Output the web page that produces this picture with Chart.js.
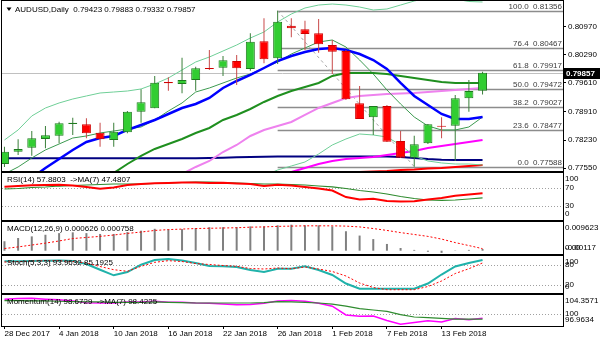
<!DOCTYPE html>
<html>
<head>
<meta charset="utf-8">
<script src="https://cdn.jsdelivr.net/npm/chart.js@4.4.1/dist/chart.umd.min.js"></script>
<style>
  html, body { margin: 0; padding: 0; background: #fff; }
  #wrap { position: relative; width: 600px; height: 343px; overflow: hidden; }
  #wrap canvas { position: absolute; left: 0; }
</style>
</head>
<body>
<div id="wrap">
  <canvas id="main" width="600" height="172" style="top:0px"></canvas>
  <canvas id="rsi" width="600" height="49" style="top:172px"></canvas>
  <canvas id="macd" width="600" height="34" style="top:221px"></canvas>
  <canvas id="stoch" width="600" height="39" style="top:255px"></canvas>
  <canvas id="mom" width="600" height="49" style="top:294px"></canvas>
</div>
<script>
// AUDUSD daily bars, 28 Dec 2017 - 16 Feb 2018
const dates = ['28 Dec 2017', '29 Dec 2017', '2 Jan 2018', '3 Jan 2018', '4 Jan 2018', '5 Jan 2018',
  '8 Jan 2018', '9 Jan 2018', '10 Jan 2018', '11 Jan 2018', '12 Jan 2018', '15 Jan 2018',
  '16 Jan 2018', '17 Jan 2018', '18 Jan 2018', '19 Jan 2018', '22 Jan 2018', '23 Jan 2018',
  '24 Jan 2018', '25 Jan 2018', '26 Jan 2018', '29 Jan 2018', '30 Jan 2018', '31 Jan 2018',
  '1 Feb 2018', '2 Feb 2018', '5 Feb 2018', '6 Feb 2018', '7 Feb 2018', '8 Feb 2018',
  '9 Feb 2018', '12 Feb 2018', '13 Feb 2018', '14 Feb 2018', '15 Feb 2018', '16 Feb 2018'];

const opens = [0.77653, 0.77950, 0.78047, 0.78257, 0.78337, 0.78619, 0.78612, 0.78409, 0.78233, 0.78419,
  0.78916, 0.78998, 0.79634, 0.79585, 0.79682, 0.79972, 0.79979, 0.80141, 0.79948, 0.80616,
  0.80206, 0.80993, 0.80906, 0.80810, 0.80527, 0.80382, 0.79119, 0.78781, 0.79054, 0.78209,
  0.77805, 0.78153, 0.78578, 0.78578, 0.79240, 0.79423];
const highs = [0.78071, 0.78250, 0.78450, 0.78571, 0.78675, 0.78771, 0.78757, 0.78651, 0.78651, 0.78933,
  0.79457, 0.79778, 0.79747, 0.80220, 0.80003, 0.80406, 0.80261, 0.80286, 0.80810, 0.81172,
  0.81356, 0.81172, 0.81114, 0.81155, 0.80648, 0.80406, 0.79537, 0.79054, 0.79078, 0.78450,
  0.78337, 0.78619, 0.78781, 0.79320, 0.79682, 0.79883];
const lows = [0.77581, 0.77871, 0.77854, 0.78032, 0.78153, 0.78354, 0.78274, 0.78071, 0.78071, 0.78395,
  0.78651, 0.78998, 0.79423, 0.79361, 0.79423, 0.79923, 0.79778, 0.79561, 0.79906, 0.80085,
  0.80068, 0.80713, 0.80406, 0.80341, 0.79827, 0.79199, 0.78740, 0.78354, 0.78185, 0.77798,
  0.77588, 0.78136, 0.78274, 0.77726, 0.78916, 0.79332];
const closes = [0.77950, 0.78016, 0.78274, 0.78346, 0.78636, 0.78651, 0.78395, 0.78250, 0.78433, 0.78916,
  0.79143, 0.79617, 0.79602, 0.79682, 0.79964, 0.79948, 0.80158, 0.79964, 0.80607, 0.80182,
  0.81090, 0.80930, 0.80793, 0.80544, 0.80365, 0.79216, 0.78740, 0.79054, 0.78192, 0.77805,
  0.78129, 0.78612, 0.78554, 0.79240, 0.79416, 0.79857];

// overlays on the price panel
const bbUpper = [0.78233, 0.78475, 0.78813, 0.79006, 0.79127, 0.79223, 0.79296, 0.79368, 0.79392, 0.79416,
  0.79465, 0.79585, 0.79730, 0.79924, 0.80117, 0.80237, 0.80382, 0.80527, 0.80696, 0.80841,
  0.81083, 0.81276, 0.81421, 0.81493, 0.81517, 0.81493, 0.81445, 0.81373, 0.81397, 0.81493,
  0.81590, 0.81662, 0.81686, 0.81638, 0.81578, 0.81566];
const bbMiddle = [0.77412, 0.77581, 0.77798, 0.77992, 0.78136, 0.78281, 0.78330, 0.78402, 0.78450, 0.78499,
  0.78547, 0.78716, 0.78933, 0.79127, 0.79392, 0.79489, 0.79610, 0.79730, 0.79827, 0.79972,
  0.80117, 0.80310, 0.80455, 0.80600, 0.80648, 0.80479, 0.80165, 0.79827, 0.79441, 0.79102,
  0.78788, 0.78571, 0.78475, 0.78475, 0.78547, 0.78788];
const bbLower = [null, null, null, null, null, null, null, null, null, null,
  null, null, null, null, null, null, null, null, null, 0.77364,
  0.77509, 0.77605, 0.77702, 0.77895, 0.78112, 0.78257, 0.78378, 0.78354, 0.78305, 0.78112,
  0.77847, 0.77726, 0.77678, 0.77653, 0.77653, 0.77629];
const maBlue = [null, null, 0.77315, 0.77557, 0.77774, 0.77992, 0.78185, 0.78281, 0.78330, 0.78475,
  0.78595, 0.78716, 0.78861, 0.79006, 0.79102, 0.79247, 0.79489, 0.79658, 0.79803, 0.79972,
  0.80141, 0.80262, 0.80358, 0.80431, 0.80455, 0.80407, 0.80310, 0.80165, 0.79948, 0.79610,
  0.79296, 0.79078, 0.78861, 0.78740, 0.78740, 0.78788];
const maGreen = [null, null, null, null, null, null, null, null, 0.77436, 0.77653,
  0.77847, 0.78016, 0.78136, 0.78257, 0.78402, 0.78523, 0.78716, 0.78837, 0.78982, 0.79151,
  0.79296, 0.79416, 0.79513, 0.79610, 0.79779, 0.79851, 0.79851, 0.79851, 0.79827, 0.79779,
  0.79730, 0.79682, 0.79634, 0.79610, 0.79610, 0.79610];
const maViolet = [null, null, null, null, null, null, null, null, null, null,
  null, null, null, 0.77412, 0.77581, 0.77726, 0.77943, 0.78112, 0.78330, 0.78475,
  0.78571, 0.78668, 0.78837, 0.79006, 0.79127, 0.79247, 0.79296, 0.79320, 0.79344, 0.79356,
  0.79368, 0.79392, 0.79416, 0.79441, 0.79465, 0.79489];
const maMagenta = [null, null, null, null, null, null, null, null, null, null,
  null, null, null, null, null, null, null, null, null, null,
  null, 0.77460, 0.77557, 0.77653, 0.77726, 0.77774, 0.77798, 0.77822, 0.77871, 0.77919,
  0.77967, 0.78040, 0.78088, 0.78136, 0.78185, 0.78233];
const maNavy = [0.77791, 0.77791, 0.77791, 0.77791, 0.77791, 0.77791, 0.77791, 0.77791, 0.77791, 0.77791,
  0.77791, 0.77791, 0.77791, 0.77791, 0.77791, 0.77798, 0.77806, 0.77814, 0.77822, 0.77830,
  0.77834, 0.77834, 0.77834, 0.77834, 0.77834, 0.77834, 0.77834, 0.77834, 0.77834, 0.77822,
  0.77798, 0.77774, 0.77758, 0.77750, 0.77750, 0.77750];
const maRed = [null, null, null, null, null, null, null, null, null, null,
  null, null, null, null, null, null, null, null, null, null,
  null, null, null, null, null, null, 0.77460, 0.77472, 0.77484, 0.77509,
  0.77521, 0.77545, 0.77557, 0.77581, 0.77605, 0.77629];

const priceTicks = [0.80970, 0.80290, 0.79610, 0.78910, 0.78230, 0.77550];
const fibLevels = [0, 23.6, 38.2, 50, 61.8, 76.4, 100];
const FIB_HIGH_BAR = 20;
const FIB_LOW_BAR = 30;

// oscillators
const rsi = [72.7, 74.5, 76.0, 76.8, 77.3, 75.7, 72.3, 68.4, 71.1, 76.8,
  79.0, 80.7, 81.4, 82.5, 82.5, 81.4, 81.8, 80.2, 79.1, 74.5,
  77.5, 75.7, 72.3, 68.9, 64.3, 49.5, 43.9, 45.7, 40.5, 39.3,
  39.8, 43.9, 47.3, 52.5, 55.2, 57.8803];
const rsiMa = [67.7, 68.9, 71.1, 72.3, 74.5, 75.7, 76.8, 78.0, 79.1, 79.1,
  79.1, 80.2, 81.4, 82.5, 83.6, 83.6, 82.5, 81.4, 80.2, 79.1,
  79.1, 78.0, 76.8, 74.5, 72.7, 68.9, 64.3, 60.9, 56.4, 50.7,
  46.1, 42.7, 42.0, 42.7, 45.0, 47.4807];
const rsiTicks = [100, 70, 30, 0];
const rsiLevels = [70, 30];

const macd = [0.0035, 0.0047, 0.0053, 0.0059, 0.0065, 0.0068, 0.0065, 0.0062, 0.0062, 0.0069,
  0.0074, 0.0081, 0.0079, 0.0080, 0.0084, 0.0087, 0.0087, 0.0087, 0.0090, 0.0090,
  0.0094, 0.009623, 0.0094, 0.0094, 0.0090, 0.0072, 0.0056, 0.0043, 0.0025, 0.0010,
  0.0003, -0.0004, -0.0008, 0.0001, 0.0003, 0.000626];
const macdSignal = [0.0008, 0.0014, 0.0021, 0.0028, 0.0036, 0.0045, 0.0049, 0.0053, 0.0058, 0.0064,
  0.0069, 0.0075, 0.0078, 0.0080, 0.0082, 0.0083, 0.0084, 0.0085, 0.0087, 0.0088,
  0.0090, 0.0091, 0.0092, 0.0092, 0.0092, 0.0091, 0.0088, 0.0082, 0.0075, 0.0067,
  0.0060, 0.0053, 0.0043, 0.0030, 0.0019, 0.000758];
const macdTicks = [0.009623, 0, -0.00117];

const stochK = [89.9, 89.9, 90.8, 91.7, 92.2, 90.8, 82.0, 65.4, 49.1, 58.7,
  80.0, 93.7, 96.6, 92.2, 85.0, 76.2, 75.3, 73.3, 64.5, 58.7,
  68.3, 68.3, 75.3, 64.5, 50.0, 25.2, 10.0, 10.0, 10.0, 10.0,
  10.0, 25.2, 51.4, 74.8, 85.0, 93.9632];
const stochD = [87.9, 89.3, 90.8, 91.4, 91.4, 89.3, 85.0, 74.8, 65.4, 60.8,
  75.3, 87.0, 91.7, 89.3, 83.5, 80.6, 77.7, 75.3, 68.9, 67.5,
  70.4, 68.3, 73.3, 67.5, 60.2, 47.1, 26.6, 13.5, 7.1, 7.1,
  7.1, 16.4, 32.5, 54.3, 68.3, 85.1925];
const stochTicks = [100, 80, 20, 0];
const stochLevels = [80, 20];

const momentum = [104.1, 104.3, 104.3571, 104.1, 103.9, 103.6, 103.1, 103.0, 103.0, 103.3,
  103.3, 103.5, 103.2, 103.2, 103.0, 102.9, 102.7, 102.5, 102.6, 102.9,
  103.6, 103.7, 103.5, 102.9, 102.1, 99.6, 99.2, 99.3, 98.0, 96.9634,
  97.4, 97.9, 97.6, 98.6, 98.2, 98.6729];
const momentumMa = [103.7, 103.7, 103.6, 103.6, 103.5, 103.4, 103.3, 103.3, 103.2, 103.2,
  103.2, 103.3, 103.2, 103.1, 103.0, 103.0, 103.0, 103.0, 103.0, 103.1,
  103.4, 103.3, 103.2, 103.0, 102.7, 102.1, 101.4, 101.0, 100.6, 99.7,
  99.0, 98.8, 98.6, 98.4, 98.4, 98.4225];
const momTicks = [104.3571, 100, 96.9634];
const momLevels = [100];

// layout / look
const FONT_FAMILY = '"Liberation Sans", Arial, sans-serif';
const FONT = '8px ' + FONT_FAMILY;
const X_MIN = -0.18, X_MAX = 40.89;   // visible bar window incl. right shift
const AXIS_W = 37;
const LAST = closes.length - 1;

const UP_BODY = '#32cd32', UP_EDGE = '#1d7a1d', UP_WICK = '#3a7f3a';
const DN_BODY = '#ff0000', DN_EDGE = '#d00000', DN_WICK = '#c84a4a';

const pts = arr => arr.map((v, i) => ({ x: i, y: v }));

function line(data, color, width, dash) {
  return {
    type: 'line', data: pts(data), borderColor: color, borderWidth: width,
    borderDash: dash || [], pointRadius: 0, tension: 0, spanGaps: false, order: 5
  };
}

function xAxis(show) {
  return {
    type: 'linear', min: X_MIN, max: X_MAX, offset: false, display: show,
    afterBuildTicks: s => {
      s.ticks = dates.map((d, i) => i).filter(i => i % 4 === 0).map(v => ({ value: v }));
    },
    ticks: {
      font: { family: FONT_FAMILY, size: 8 }, color: '#000', align: 'start',
      maxRotation: 0, autoSkip: false, padding: 0, callback: v => dates[v]
    },
    grid: { drawOnChartArea: false, drawTicks: true, tickLength: 3, color: '#000' },
    border: { display: false },
    afterFit: s => {
      if (!show) return;
      s.height = 17; s.paddingLeft = 0; s.paddingRight = 0;
    }
  };
}

function yAxis(min, max) {
  return {
    position: 'right', min: min, max: max,
    ticks: { display: false }, grid: { display: false }, border: { display: false },
    afterFit: s => { s.width = AXIS_W; s.paddingTop = 0; s.paddingBottom = 0; }
  };
}

// frame, dotted levels, title and clamped right-hand labels, MT4 style
function panelPlugin(p) {
  return {
    id: 'panel_' + p.key,
    beforeDatasetsDraw(chart) {
      const { ctx, chartArea: a } = chart;
      const y = chart.scales.y;
      ctx.save();
      ctx.strokeStyle = '#a0a0a0';
      ctx.lineWidth = 1;
      ctx.setLineDash([1, 2]);
      (p.levels || []).forEach(v => {
        const py = Math.round(y.getPixelForValue(v)) + 0.5;
        ctx.beginPath(); ctx.moveTo(a.left, py); ctx.lineTo(a.right, py); ctx.stroke();
      });
      ctx.restore();
      if (p.under) p.under(chart);
    },
    afterDraw(chart) {
      const { ctx, chartArea: a } = chart;
      const y = chart.scales.y;
      ctx.save();
      ctx.strokeStyle = '#000';
      ctx.lineWidth = 1;
      ctx.strokeRect(a.left - 0.5, a.top - 0.5, a.right - a.left + 1, a.bottom - a.top + 1);
      ctx.font = FONT;
      ctx.fillStyle = '#000';
      ctx.textBaseline = 'middle';
      ctx.textAlign = 'left';
      if (p.title) ctx.fillText(p.title, a.left + 5, a.top + 7);
      (p.ticks || []).forEach(v => {
        let py = y.getPixelForValue(v);
        py = Math.min(Math.max(py, a.top + 6), a.bottom - 6);
        ctx.fillText(p.fmt(v), a.right + 2, py);
      });
      ctx.restore();
      if (p.over) p.over(chart);
    }
  };
}

const baseOptions = {
  responsive: false, animation: false, events: [], devicePixelRatio: 1,
  plugins: { legend: { display: false }, tooltip: { enabled: false } }
};

// ---- price panel ----
new Chart(document.getElementById('main'), {
  type: 'bar',
  data: {
    datasets: [
      {
        label: 'body', order: 0, grouped: false, maxBarThickness: 9, minBarLength: 1,
        data: opens.map((o, i) => ({ x: i, y: [o, closes[i]] })),
        backgroundColor: closes.map((c, i) => c >= opens[i] ? UP_BODY : DN_BODY),
        borderColor: closes.map((c, i) => c >= opens[i] ? UP_EDGE : DN_EDGE),
        borderWidth: 1, borderSkipped: false
      },
      {
        label: 'wick', order: 1, grouped: false, maxBarThickness: 1,
        data: lows.map((l, i) => ({ x: i, y: [l, highs[i]] })),
        backgroundColor: closes.map((c, i) => c >= opens[i] ? UP_WICK : DN_WICK),
        borderWidth: 0
      },
      line(maBlue, '#0000ff', 2.5),
      line(maGreen, '#1f8f1f', 2),
      line(bbMiddle, '#3c9a50', 1),
      line(bbUpper, '#6fcf97', 1),
      line(bbLower, '#6fcf97', 1),
      line(maViolet, '#ee82ee', 2),
      line(maMagenta, '#ff00ff', 2),
      line(maNavy, '#000080', 2),
      line(maRed, '#ff0000', 2),
      {
        type: 'line', order: 6, pointRadius: 0, borderColor: '#a8a8a8', borderWidth: 1, borderDash: [3, 3],
        data: [{ x: FIB_HIGH_BAR, y: highs[FIB_HIGH_BAR] }, { x: FIB_LOW_BAR, y: lows[FIB_LOW_BAR] }]
      }
    ]
  },
  options: Object.assign({}, baseOptions, {
    layout: { padding: { left: 2, top: 1, bottom: 1, right: 0 } },
    scales: {
      x: xAxis(false),
      y: {
        position: 'right', min: 0.77484, max: 0.81590,
        afterBuildTicks: s => { s.ticks = priceTicks.map(v => ({ value: v })); },
        ticks: { font: { family: FONT_FAMILY, size: 8 }, color: '#000', padding: 2, autoSkip: false, callback: v => v.toFixed(5) },
        grid: { drawOnChartArea: false, drawTicks: true, tickLength: 3, color: '#000' },
        border: { display: false },
        afterFit: s => { s.width = AXIS_W; s.paddingTop = 0; s.paddingBottom = 0; }
      }
    }
  }),
  plugins: [panelPlugin({
    key: 'main',
    under(chart) {
      const { ctx, chartArea: a, scales: { x, y } } = chart;
      ctx.save();
      // bid line
      const by = Math.round(y.getPixelForValue(closes[LAST])) + 0.5;
      ctx.strokeStyle = '#c0c0c0';
      ctx.lineWidth = 1;
      ctx.beginPath(); ctx.moveTo(a.left, by); ctx.lineTo(a.right, by); ctx.stroke();
      // fibonacci retracement
      const hi = highs[FIB_HIGH_BAR], lo = lows[FIB_LOW_BAR];
      const fx = x.getPixelForValue(FIB_HIGH_BAR);
      ctx.strokeStyle = '#8c8c8c';
      ctx.lineWidth = 1.5;
      ctx.font = FONT;
      ctx.fillStyle = '#3c3c3c';
      ctx.textAlign = 'right';
      ctx.textBaseline = 'bottom';
      fibLevels.forEach(lv => {
        const price = lo + (hi - lo) * lv / 100;
        const py = Math.round(y.getPixelForValue(price)) + 0.5;
        ctx.beginPath(); ctx.moveTo(fx, py); ctx.lineTo(a.right, py); ctx.stroke();
        ctx.fillText(lv.toFixed(1) + '  ' + price.toFixed(5), a.right - 1, py - 1);
      });
      ctx.restore();
    },
    over(chart) {
      const { ctx, chartArea: a, scales: { y } } = chart;
      ctx.save();
      ctx.fillStyle = '#000';
      ctx.beginPath(); ctx.moveTo(6.5, 7.5); ctx.lineTo(11.5, 7.5); ctx.lineTo(9, 11); ctx.closePath(); ctx.fill();
      ctx.font = FONT;
      ctx.textBaseline = 'middle';
      ctx.textAlign = 'left';
      const ohlc = [opens[LAST], highs[LAST], lows[LAST], closes[LAST]].map(v => v.toFixed(5)).join(' ');
      ctx.fillText('AUDUSD,Daily  ' + ohlc, 15, 9.5);
      // current price box
      const py = y.getPixelForValue(closes[LAST]);
      ctx.fillRect(a.right + 1, Math.round(py) - 5, AXIS_W - 1, 11);
      ctx.fillStyle = '#fff';
      ctx.font = 'bold ' + FONT;
      ctx.fillText(closes[LAST].toFixed(5), a.right + 3, Math.round(py) + 0.5);
      ctx.restore();
    }
  })]
});

// ---- RSI ----
new Chart(document.getElementById('rsi'), {
  type: 'line',
  data: { datasets: [line(rsi, '#ff0000', 2), line(rsiMa, '#2e8b2e', 1.2)] },
  options: Object.assign({}, baseOptions, {
    layout: { padding: { left: 2, top: 1, bottom: 1, right: 0 } },
    scales: { x: xAxis(false), y: yAxis(-2.7, 104.1) }
  }),
  plugins: [panelPlugin({
    key: 'rsi', levels: rsiLevels, ticks: rsiTicks, fmt: v => String(v),
    title: 'RSI(14) ' + rsi[LAST].toFixed(4) + '  ->MA(7) ' + rsiMa[LAST].toFixed(4)
  })]
});

// ---- MACD ----
new Chart(document.getElementById('macd'), {
  type: 'bar',
  data: {
    datasets: [
      line(macdSignal, '#ff0000', 1, [2, 2]),
      { label: 'macd', order: 6, grouped: false, maxBarThickness: 2, data: pts(macd), backgroundColor: '#808080', borderWidth: 0 }
    ]
  },
  options: Object.assign({}, baseOptions, {
    layout: { padding: { left: 2, top: 1, bottom: 1, right: 0 } },
    scales: { x: xAxis(false), y: yAxis(-0.00122, 0.01062) }
  }),
  plugins: [panelPlugin({
    key: 'macd', ticks: macdTicks,
    fmt: v => v === 0 ? '0.00' : (v < 0 ? v.toFixed(5) : v.toFixed(6)),
    title: 'MACD(12,26,9) ' + macd[LAST].toFixed(6) + ' ' + macdSignal[LAST].toFixed(6)
  })]
});

// ---- Stochastic ----
new Chart(document.getElementById('stoch'), {
  type: 'line',
  data: { datasets: [line(stochD, '#ff0000', 1, [2, 2]), line(stochK, '#20b2aa', 2)] },
  options: Object.assign({}, baseOptions, {
    layout: { padding: { left: 2, top: 1, bottom: 1, right: 0 } },
    scales: { x: xAxis(false), y: yAxis(-2.5, 105.4) }
  }),
  plugins: [panelPlugin({
    key: 'stoch', levels: stochLevels, ticks: stochTicks, fmt: v => String(v),
    title: 'Stoch(5,3,3) ' + stochK[LAST].toFixed(4) + ' ' + stochD[LAST].toFixed(4)
  })]
});

// ---- Momentum (carries the date axis) ----
new Chart(document.getElementById('mom'), {
  type: 'line',
  data: { datasets: [line(momentumMa, '#2e8b2e', 1.2), line(momentum, '#ff00ff', 1.5)] },
  options: Object.assign({}, baseOptions, {
    layout: { padding: { left: 2, top: 1, bottom: 0, right: 0 } },
    scales: { x: xAxis(true), y: yAxis(96.43, 105.29) }
  }),
  plugins: [panelPlugin({
    key: 'mom', levels: momLevels, ticks: momTicks,
    fmt: v => Number.isInteger(v) ? String(v) : v.toFixed(4),
    title: 'Momentum(14) ' + momentum[LAST].toFixed(4) + '  ->MA(7) ' + momentumMa[LAST].toFixed(4)
  })]
});
</script>
</body>
</html>
